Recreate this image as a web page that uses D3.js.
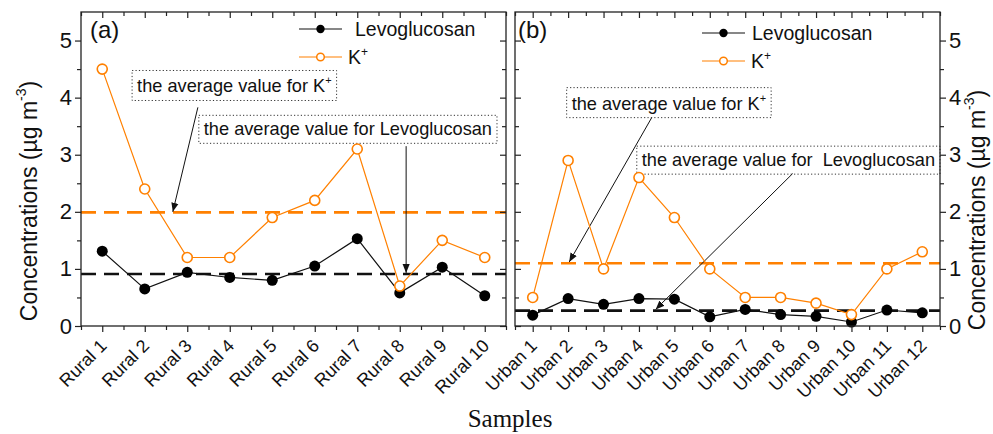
<!DOCTYPE html>
<html lang="en">
<head>
<meta charset="utf-8">
<title>Levoglucosan and K+ in rural and urban samples</title>
<script src="https://cdn.jsdelivr.net/npm/d3@7"></script>
<style>
  body { margin: 0; background: #fff; }
  text { font-family: "Liberation Sans", Arial, sans-serif; fill: #111; }
  .axis path { display: none; }
  .axis line { stroke: #222; stroke-width: 1.2; }
  .axis text { font-size: 22px; fill: #111; font-family: "Liberation Sans", Arial, sans-serif; }
  .xlab text { font-size: 18px; }
  .frame { fill: none; stroke: #222; stroke-width: 1.3; }
  .note { font-size: 18.2px; white-space: pre; }
  .notebox { fill: #fff; stroke: #333; stroke-width: 1; stroke-dasharray: 1.2 2.2; }
  .legend text { font-size: 19.5px; }
  .ytitle { font-size: 23px; text-anchor: middle; }
  .xtitle { font-family: "Liberation Serif", "Times New Roman", serif; font-size: 25px; text-anchor: middle; }
  .plabel { font-size: 24px; }
</style>
</head>
<body>
<script>
// ---- data ----
var rural = ["Rural 1", "Rural 2", "Rural 3", "Rural 4", "Rural 5",
             "Rural 6", "Rural 7", "Rural 8", "Rural 9", "Rural 10"];
var ruralLevo = [1.31, 0.65, 0.94, 0.85, 0.80, 1.05, 1.53, 0.58, 1.03, 0.53];
var ruralK    = [4.5, 2.4, 1.2, 1.2, 1.9, 2.2, 3.1, 0.7, 1.5, 1.2];
var ruralAvgLevo = 0.91;
var ruralAvgK = 1.99;

var urban = ["Urban 1", "Urban 2", "Urban 3", "Urban 4", "Urban 5", "Urban 6",
             "Urban 7", "Urban 8", "Urban 9", "Urban 10", "Urban 11", "Urban 12"];
var urbanLevo = [0.19, 0.48, 0.38, 0.48, 0.47, 0.16, 0.29, 0.20, 0.17, 0.07, 0.28, 0.23];
var urbanK    = [0.5, 2.9, 1.0, 2.6, 1.9, 1.0, 0.5, 0.5, 0.4, 0.2, 1.0, 1.3];
var urbanAvgLevo = 0.27;
var urbanAvgK = 1.10;

var yTicks = [0, 1, 2, 3, 4, 5];
var yMinor = [0.5, 1.5, 2.5, 3.5, 4.5];

// annotation notes: [text, x (category units), y (value), has K+ superscript]
// arrows: [x1, y1, x2, y2] in category units / values
var ruralNotes = [["the average value for K", 1.82, 4.09, true],
                  ["the average value for Levoglucosan", 3.39, 3.34, false]];
var ruralArrows = [[3.25, 3.83, 2.66, 2.0], [8.15, 3.15, 8.15, 0.93]];
var urbanNotes = [["the average value for K", 2.10, 3.79, true],
                  ["the average value for  Levoglucosan", 4.08, 2.80, false]];
var urbanArrows = [[4.36, 3.65, 2.03, 1.12], [8.34, 2.67, 4.47, 0.29]];

var orange = "#ff8000";
var W = 993, H = 434;
var top0 = 12, bot0 = 326, panelW = 425;

var svg = d3.select("body").append("svg")
  .attr("width", W).attr("height", H);

var defs = svg.append("defs");
defs.append("marker").attr("id", "arr")
  .attr("viewBox", "0 0 10 10").attr("refX", 10).attr("refY", 5)
  .attr("markerWidth", 9).attr("markerHeight", 9)
  .attr("markerUnits", "userSpaceOnUse").attr("orient", "auto")
  .append("path").attr("d", "M0,1 L10,5 L0,9 Z").attr("fill", "#111");

var y = d3.scaleLinear().domain([0, 5.5]).range([bot0, top0]);

function drawPanel(opt) {
  var n = opt.cats.length;
  var x = d3.scaleLinear().domain([0.5, n + 0.5]).range([opt.x0, opt.x0 + panelW]);
  var g = svg.append("g");
  var idx = d3.range(1, n + 1);
  var half = d3.range(0.5, n + 1, 1);

  // average dashed lines
  g.append("line").attr("x1", opt.x0).attr("x2", opt.x0 + panelW)
    .attr("y1", y(opt.avgK)).attr("y2", y(opt.avgK))
    .attr("stroke", orange).attr("stroke-width", 2.6).attr("stroke-dasharray", "15 8");
  g.append("line").attr("x1", opt.x0).attr("x2", opt.x0 + panelW)
    .attr("y1", y(opt.avgLevo)).attr("y2", y(opt.avgLevo))
    .attr("stroke", "#111").attr("stroke-width", 2.6).attr("stroke-dasharray", "15 8");

  // notes with dotted boxes
  opt.notes.forEach(function(nt) {
    var t = g.append("text").attr("class", "note")
      .attr("x", x(nt[1])).attr("y", y(nt[2]));
    t.append("tspan").text(nt[0]);
    if (nt[3]) t.append("tspan").attr("font-size", "11px").attr("dy", -8).text("+");
    var b = t.node().getBBox();
    g.insert("rect", "text.note")
      .attr("class", "notebox")
      .attr("x", b.x - 5).attr("y", b.y - 4)
      .attr("width", b.width + 10).attr("height", b.height + 8);
  });

  // arrows
  opt.arrows.forEach(function(a) {
    g.append("line")
      .attr("x1", x(a[0])).attr("y1", y(a[1]))
      .attr("x2", x(a[2])).attr("y2", y(a[3]))
      .attr("stroke", "#111").attr("stroke-width", 1)
      .attr("marker-end", "url(#arr)");
  });

  // series
  var line = d3.line().x(function(d, i) { return x(i + 1); }).y(function(d) { return y(d); });
  g.append("path").datum(opt.k).attr("d", line)
    .attr("fill", "none").attr("stroke", orange).attr("stroke-width", 1.2);
  g.append("path").datum(opt.levo).attr("d", line)
    .attr("fill", "none").attr("stroke", "#111").attr("stroke-width", 1.2);
  g.selectAll("circle.lv").data(opt.levo).enter().append("circle")
    .attr("class", "lv")
    .attr("cx", function(d, i) { return x(i + 1); })
    .attr("cy", function(d) { return y(d); })
    .attr("r", 5.5).attr("fill", "#000");
  g.selectAll("circle.kk").data(opt.k).enter().append("circle")
    .attr("class", "kk")
    .attr("cx", function(d, i) { return x(i + 1); })
    .attr("cy", function(d) { return y(d); })
    .attr("r", 5).attr("fill", "#fff").attr("stroke", orange).attr("stroke-width", 1.6);

  // frame
  g.append("rect").attr("class", "frame")
    .attr("x", opt.x0).attr("y", top0).attr("width", panelW).attr("height", bot0 - top0);

  // bottom axis, outward ticks + rotated labels
  g.append("g").attr("class", "axis")
    .attr("transform", "translate(0," + bot0 + ")")
    .call(d3.axisBottom(x).tickValues(half).tickSize(4).tickFormat(""));
  var xa = g.append("g").attr("class", "axis xlab")
    .attr("transform", "translate(0," + bot0 + ")")
    .call(d3.axisBottom(x).tickValues(idx).tickSize(6)
      .tickFormat(function(d) { return opt.cats[d - 1]; }));
  xa.selectAll("text")
    .attr("x", 0).attr("y", 0).attr("dy", 0)
    .attr("text-anchor", "end")
    .attr("transform", "translate(5,21) rotate(-45)");

  // top axis, inward ticks
  g.append("g").attr("class", "axis")
    .attr("transform", "translate(0," + top0 + ")")
    .call(d3.axisBottom(x).tickValues(idx).tickSize(6).tickFormat(""));
  g.append("g").attr("class", "axis")
    .attr("transform", "translate(0," + top0 + ")")
    .call(d3.axisBottom(x).tickValues(half).tickSize(4).tickFormat(""));

  // y axes
  var xl = opt.x0, xr = opt.x0 + panelW;
  if (opt.side === "left") {
    g.append("g").attr("class", "axis").attr("transform", "translate(" + xl + ",0)")
      .call(d3.axisLeft(y).tickValues(yTicks).tickSize(6).tickFormat(d3.format("d")));
    g.append("g").attr("class", "axis").attr("transform", "translate(" + xl + ",0)")
      .call(d3.axisLeft(y).tickValues(yMinor).tickSize(4).tickFormat(""));
    g.append("g").attr("class", "axis").attr("transform", "translate(" + xr + ",0)")
      .call(d3.axisLeft(y).tickValues(yTicks).tickSize(6).tickFormat(""));
    g.append("g").attr("class", "axis").attr("transform", "translate(" + xr + ",0)")
      .call(d3.axisLeft(y).tickValues(yMinor).tickSize(4).tickFormat(""));
  } else {
    g.append("g").attr("class", "axis").attr("transform", "translate(" + xr + ",0)")
      .call(d3.axisRight(y).tickValues(yTicks).tickSize(6).tickFormat(d3.format("d")));
    g.append("g").attr("class", "axis").attr("transform", "translate(" + xr + ",0)")
      .call(d3.axisRight(y).tickValues(yMinor).tickSize(4).tickFormat(""));
    g.append("g").attr("class", "axis").attr("transform", "translate(" + xl + ",0)")
      .call(d3.axisRight(y).tickValues(yTicks).tickSize(6).tickFormat(""));
    g.append("g").attr("class", "axis").attr("transform", "translate(" + xl + ",0)")
      .call(d3.axisRight(y).tickValues(yMinor).tickSize(4).tickFormat(""));
  }

  // panel label
  g.append("text").attr("class", "plabel")
    .attr("x", opt.x0 + opt.labDx).attr("y", 38).text(opt.label);

  // legend
  var lg = g.append("g").attr("class", "legend")
    .attr("transform", "translate(" + (opt.x0 + opt.legDx) + "," + opt.legDy + ")");
  lg.append("line").attr("x1", 0).attr("x2", 43).attr("y1", 0).attr("y2", 0)
    .attr("stroke", "#111").attr("stroke-width", 1.2);
  lg.append("circle").attr("cx", 21.5).attr("cy", 0).attr("r", 4.2).attr("fill", "#000");
  lg.append("text").attr("x", opt.legTx).attr("y", 7).text("Levoglucosan");
  lg.append("line").attr("x1", 0).attr("x2", 43).attr("y1", 28).attr("y2", 28)
    .attr("stroke", orange).attr("stroke-width", 1.2);
  lg.append("circle").attr("cx", 21.5).attr("cy", 28).attr("r", 3.8)
    .attr("fill", "#fff").attr("stroke", orange).attr("stroke-width", 1.5);
  var kt = lg.append("text").attr("x", 49).attr("y", 35);
  kt.append("tspan").text("K");
  kt.append("tspan").attr("font-size", "12px").attr("dy", -8).text("+");
}

drawPanel({ x0: 81, cats: rural, levo: ruralLevo, k: ruralK,
  avgLevo: ruralAvgLevo, avgK: ruralAvgK, side: "left",
  notes: ruralNotes, arrows: ruralArrows, label: "(a)", labDx: 9,
  legDx: 218, legDy: 29, legTx: 56 });

drawPanel({ x0: 515, cats: urban, levo: urbanLevo, k: urbanK,
  avgLevo: urbanAvgLevo, avgK: urbanAvgK, side: "right",
  notes: urbanNotes, arrows: urbanArrows, label: "(b)", labDx: 3,
  legDx: 187, legDy: 33, legTx: 50 });

// axis titles
function yTitle(tx, ty) {
  var t = svg.append("text").attr("class", "ytitle")
    .attr("transform", "translate(" + tx + "," + ty + ") rotate(-90)");
  t.append("tspan").text("Concentrations (\u00b5g m");
  t.append("tspan").attr("font-size", "14px").attr("dy", -11).text("-3");
  t.append("tspan").attr("dy", 11).text(")");
}
yTitle(37, 201);
yTitle(985, 210);

svg.append("text").attr("class", "xtitle").attr("x", 510).attr("y", 427).text("Samples");
</script>
</body>
</html>
